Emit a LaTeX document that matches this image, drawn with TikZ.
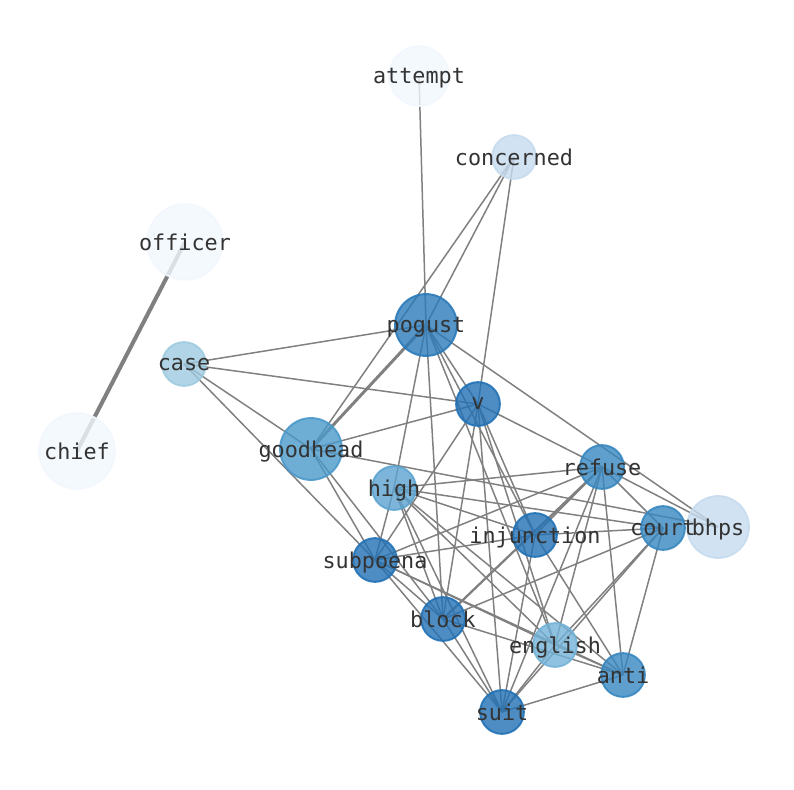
\documentclass[tikz,border=0pt]{standalone}
\usepackage{fontspec}
\setmonofont{DejaVu Sans Mono}
\usetikzlibrary{backgrounds}

\definecolor{blue9}{HTML}{2171B5}
\definecolor{blue8}{HTML}{2A7AB9}
\definecolor{blue7}{HTML}{3787C0}
\definecolor{blue6}{HTML}{4A98C9}
\definecolor{blue5}{HTML}{5BA3D0}
\definecolor{blue4}{HTML}{73B3D8}
\definecolor{blue3}{HTML}{9ECAE1}
\definecolor{blue2}{HTML}{C6DBEF}
\definecolor{blue1}{HTML}{F1F7FD}
\definecolor{edgegray}{HTML}{808080}
\definecolor{txtgray}{HTML}{333333}

\begin{document}
\begin{tikzpicture}[
            x = .02cm, y = -.02cm,
            every node/.style={text depth=0pt, circle, inner sep=0pt},
            word/.style={fill=#1, draw=#1, fill opacity=.8, draw opacity=.9,
                line width=1.1pt, minimum size=24.9pt},
            big/.style={minimum size=35.2pt},
            huge/.style={minimum size=43pt},
            lbl/.style={text opacity=1, text=txtgray,
                font=\ttfamily\fontsize{12.4}{15}\selectfont},
            line/.style={line width=.85pt, draw=edgegray},
            ]
        \useasboundingbox (0,0) rectangle (794,790);

        % words
        \node[word=blue1, minimum size=34pt, label={[lbl]center:attempt}] (attempt) at (419,76) {};
        \node[word=blue2, label={[lbl]center:concerned}] (concerned) at (514,157) {};
        \node[word=blue1, huge, label={[lbl]center:officer}] (officer) at (185,242) {};
        \node[word=blue1, huge, label={[lbl]center:chief}] (chief) at (77,451) {};
        \node[word=blue8, big, label={[lbl]center:pogust}] (pogust) at (426,325) {};
        \node[word=blue3, label={[lbl]center:case}] (case) at (184,364) {};
        \node[word=blue9, label={[lbl]center:v}] (v) at (478,404) {};
        \node[word=blue6, big, label={[lbl]center:goodhead}] (goodhead) at (311,449) {};
        \node[word=blue7, label={[lbl]center:refuse}] (refuse) at (602,467) {};
        \node[word=blue5, label={[lbl]center:high}] (high) at (394,488) {};
        \node[word=blue2, big, label={[lbl]center:bhps}] (bhps) at (718,527) {};
        \node[word=blue7, label={[lbl]center:court}] (court) at (663,528) {};
        \node[word=blue9, label={[lbl]center:injunction}] (injunction) at (535,535) {};
        \node[word=blue9, label={[lbl]center:subpoena}] (subpoena) at (375,560) {};
        \node[word=blue9, label={[lbl]center:block}] (block) at (443,619) {};
        \node[word=blue4, label={[lbl]center:english}] (english) at (555,645) {};
        \node[word=blue7, label={[lbl]center:anti}] (anti) at (623,675) {};
        \node[word=blue9, label={[lbl]center:suit}] (suit) at (502,712) {};

        % links
        \begin{scope}[on background layer]
            \foreach \a/\b in {attempt/pogust,
                concerned/pogust, concerned/goodhead, concerned/v,
                case/pogust, case/v, case/goodhead, case/subpoena,
                pogust/v, pogust/high, pogust/block, pogust/bhps, pogust/injunction, pogust/english,
                goodhead/v, goodhead/bhps, goodhead/subpoena, goodhead/block,
                v/refuse, v/injunction, v/subpoena, v/block, v/suit, v/english,
                refuse/bhps, refuse/court, refuse/high, refuse/injunction, refuse/subpoena,
                refuse/english, refuse/suit, refuse/anti,
                court/high, court/injunction, court/block, court/english, court/suit, court/anti,
                high/injunction, high/english, high/anti, high/block, high/subpoena, high/suit,
                injunction/subpoena, injunction/suit, injunction/anti,
                subpoena/block, subpoena/english, subpoena/anti, subpoena/suit,
                block/suit, block/anti,
                english/anti, english/suit,
                anti/suit}
                \draw[line] (\a.center) -- (\b.center);

            \draw[line, line width=2.3pt] (officer.center) -- (chief.center);
            \draw[line, line width=1.7pt] (pogust.center) -- (goodhead.center);
            \draw[line, line width=1.3pt] (refuse.center) -- (block.center);
        \end{scope}
    \end{tikzpicture}
\end{document}
